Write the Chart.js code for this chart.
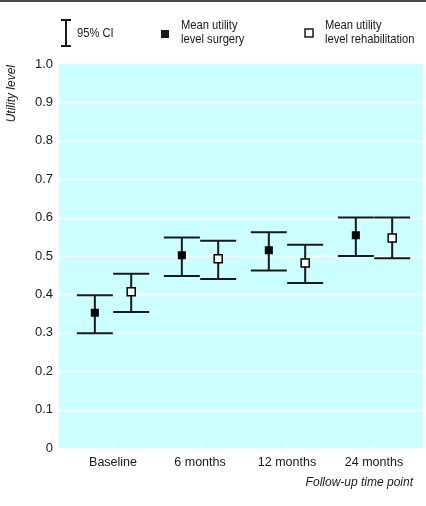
<!DOCTYPE html>
<html>
<head>
<meta charset="utf-8">
<script src="https://cdn.jsdelivr.net/npm/chart.js@4/dist/chart.umd.min.js"></script>
<style>
  html, body { margin: 0; padding: 0; background: #fff; }
  #wrap { width: 426px; height: 506px; position: relative; }
</style>
</head>
<body>
<div id="wrap"><canvas id="myChart" width="426" height="506"></canvas></div>
<script>
// data
let timePoints = ['Baseline', '6 months', '12 months', '24 months'];
let surgeryMean = [0.352, 0.502, 0.515, 0.554];
let surgeryLow  = [0.299, 0.448, 0.462, 0.500];
let surgeryHigh = [0.398, 0.548, 0.562, 0.600];
let rehabMean = [0.407, 0.493, 0.482, 0.547];
let rehabLow  = [0.354, 0.440, 0.430, 0.494];
let rehabHigh = [0.454, 0.540, 0.529, 0.600];
let yTicks = [0, 0.1, 0.2, 0.3, 0.4, 0.5, 0.6, 0.7, 0.8, 0.9, 1.0];

const shift = 0.209;   // side offset of each group member
const capHalf = 18;    // px
const font = '"Liberation Sans", Arial, sans-serif';
const ink = '#1a1a1a';

function pts(vals, dx) {
  return vals.map((v, i) => ({ x: i + dx, y: v }));
}

// background, white grid, small white ticks
const plotBg = {
  id: 'plotBg',
  beforeDraw(chart) {
    const { ctx, chartArea: a, scales } = chart;
    const right = chart.width - 3;   // panel runs a little past the chart area
    ctx.save();
    ctx.fillStyle = '#ccffff';
    ctx.fillRect(a.left, a.top, right - a.left, a.bottom - a.top);
    ctx.strokeStyle = '#ffffff';
    ctx.lineWidth = 1.5;
    yTicks.forEach(t => {
      if (t <= 0 || t >= 1) return;
      const y = Math.round(scales.y.getPixelForValue(t)) + 0.5;
      ctx.beginPath(); ctx.moveTo(a.left, y); ctx.lineTo(right, y); ctx.stroke();
    });
    ctx.lineWidth = 1;
    timePoints.forEach((_, i) => {
      const x = Math.round(scales.x.getPixelForValue(i)) + 0.5;
      ctx.beginPath(); ctx.moveTo(x, a.bottom - 5); ctx.lineTo(x, a.bottom); ctx.stroke();
    });
    // top rule
    ctx.fillStyle = '#4a4a4a';
    ctx.fillRect(0, 0, chart.width, 2);
    ctx.restore();
  }
};

const errBars = {
  id: 'errBars',
  beforeDatasetsDraw(chart) {
    const { ctx, scales } = chart;
    ctx.save();
    ctx.strokeStyle = ink;
    ctx.lineWidth = 2;
    const draw = (lo, hi, dx) => {
      lo.forEach((l, i) => {
        const x = scales.x.getPixelForValue(i + dx);
        const y1 = scales.y.getPixelForValue(l);
        const y2 = scales.y.getPixelForValue(hi[i]);
        ctx.beginPath();
        ctx.moveTo(x, y1); ctx.lineTo(x, y2);
        ctx.moveTo(x - capHalf, y1); ctx.lineTo(x + capHalf, y1);
        ctx.moveTo(x - capHalf, y2); ctx.lineTo(x + capHalf, y2);
        ctx.stroke();
      });
    };
    draw(surgeryLow, surgeryHigh, -shift);
    draw(rehabLow, rehabHigh, shift);
    ctx.restore();
  }
};

// squeezed text, the original type is a bit narrower than Liberation Sans
function narrowText(ctx, txt, x, y, sx) {
  ctx.save();
  ctx.translate(x, y);
  ctx.scale(sx, 1);
  ctx.fillText(txt, 0, 0);
  ctx.restore();
}

// legend, axis titles
const extras = {
  id: 'extras',
  afterDraw(chart) {
    const ctx = chart.ctx;
    ctx.save();
    ctx.fillStyle = ink;
    ctx.strokeStyle = ink;
    ctx.textBaseline = 'middle';
    ctx.font = '13px ' + font;
    // CI icon
    ctx.lineWidth = 2;
    ctx.beginPath();
    ctx.moveTo(66, 20); ctx.lineTo(66, 46);
    ctx.moveTo(61, 20); ctx.lineTo(71, 20);
    ctx.moveTo(61, 46); ctx.lineTo(71, 46);
    ctx.stroke();
    narrowText(ctx, '95% CI', 77, 33, 0.86);
    // surgery
    ctx.fillRect(161, 30, 8, 8);
    narrowText(ctx, 'Mean utility', 181, 25, 0.86);
    narrowText(ctx, 'level surgery', 181, 39, 0.86);
    // rehab
    ctx.fillStyle = '#fff';
    ctx.fillRect(305, 29, 8, 8);
    ctx.lineWidth = 1.5;
    ctx.strokeRect(305, 29, 8, 8);
    ctx.fillStyle = ink;
    narrowText(ctx, 'Mean utility', 325, 25, 0.86);
    narrowText(ctx, 'level rehabilitation', 325, 39, 0.86);
    // axis titles
    ctx.font = 'italic 12px ' + font;
    ctx.textAlign = 'right';
    ctx.fillText('Follow-up time point', 413, 483);
    ctx.translate(12, 65);
    ctx.rotate(-Math.PI / 2);
    ctx.fillText('Utility level', 0, 0);
    ctx.restore();
  }
};

const ctx = document.getElementById('myChart');
let chart = new Chart(ctx, {
  type: 'scatter',
  data: {
    datasets: [{
      label: 'Mean utility level surgery',
      data: pts(surgeryMean, -shift),
      pointStyle: 'rect',
      pointRadius: 5.7,
      backgroundColor: '#000',
      borderColor: '#000',
      borderWidth: 0
    }, {
      label: 'Mean utility level rehabilitation',
      data: pts(rehabMean, shift),
      pointStyle: 'rect',
      pointRadius: 5.7,
      backgroundColor: '#fff',
      borderColor: '#000',
      borderWidth: 1.5
    }]
  },
  options: {
    responsive: false,
    animation: false,
    layout: { padding: { left: 0, right: 3, top: 64, bottom: 0 } },
    plugins: { legend: { display: false }, tooltip: { enabled: false } },
    scales: {
      x: {
        type: 'linear',
        min: -0.621,
        max: 3.515,
        afterBuildTicks: s => { s.ticks = timePoints.map((_, i) => ({ value: i })); },
        afterFit: s => { s.height = 58; },
        grid: { display: false, drawTicks: false },
        border: { display: false },
        ticks: {
          padding: 7,
          autoSkip: false,
          maxRotation: 0,
          color: ink,
          font: { family: font, size: 12.5 },
          callback: v => timePoints[v]
        }
      },
      y: {
        min: 0,
        max: 1,
        afterBuildTicks: s => { s.ticks = yTicks.map(v => ({ value: v })); },
        afterFit: s => { s.width = 59; },
        grid: { display: false, drawTicks: false },
        border: { display: false },
        ticks: {
          padding: 6,
          color: ink,
          font: { family: font, size: 13 },
          callback: v => (v === 0 ? '0' : v.toFixed(1))
        }
      }
    }
  },
  plugins: [plotBg, errBars, extras]
});
</script>
</body>
</html>
